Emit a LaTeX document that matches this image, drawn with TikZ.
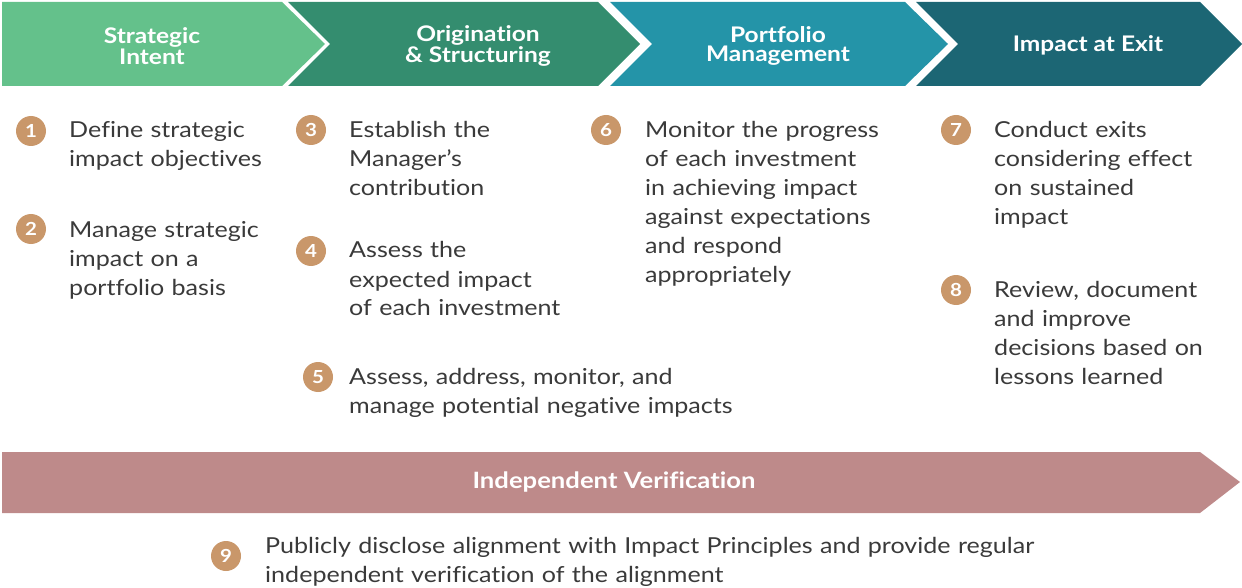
\documentclass[tikz,border=0pt]{standalone}
\usepackage{fontspec}
\setmainfont{Lato}[FakeStretch=1.14,Ligatures={NoCommon,NoRequired,NoContextual}]
\definecolor{cA}{HTML}{64C18B}
\definecolor{cB}{HTML}{348D6F}
\definecolor{cC}{HTML}{2494A8}
\definecolor{cD}{HTML}{1C6674}
\definecolor{cV}{HTML}{BE8A8A}
\definecolor{cN}{HTML}{C9976A}
\definecolor{txt}{HTML}{3A3A3A}
\begin{document}
\begin{tikzpicture}[x=1pt,y=-1pt,
  head/.style={text=white,font=\bfseries\fontsize{21.5}{19}\selectfont,align=center,inner sep=0pt},
  num/.style={circle,fill=cN,minimum size=30pt,inner sep=0pt,text=white,font=\bfseries\fontsize{18}{18}\selectfont},
  item/.style={anchor=base west,text width=450pt,align=left,inner sep=0pt,text=txt,font=\fontsize{22}{29}\selectfont}]
\useasboundingbox (0,0) rectangle (1242,588);
% chevrons
\fill[cA] (2,2) -- (282,2) -- (325,44) -- (282,86) -- (2,86) -- cycle;
\fill[cB] (288,2) -- (598,2) -- (640,44) -- (598,86) -- (288,86) -- (330,44) -- cycle;
\fill[cC] (610,2) -- (905,2) -- (948,44) -- (905,86) -- (610,86) -- (652,44) -- cycle;
\fill[cD] (916,2) -- (1200,2) -- (1242,44) -- (1200,86) -- (916,86) -- (958,44) -- cycle;
\node[head] (h1) at (152,46) {Strategic\\Intent};
\node[head] (h2) at (478,46) {Origination\\\& Structuring};
\node[head] (h3) at (778,46) {Portfolio\\Management};
\node[head] (h4) at (1088,45) {Impact at Exit};
% items
\node[num] (n1) at (31,131) {1};
\node[item] (t1) at (69,138) {Define strategic\\impact objectives};
\node[num] (n2) at (31,229) {2};
\node[item] (t2) at (69,237) {Manage strategic\\impact on a\\portfolio basis};
\node[num] (n3) at (311,130) {3};
\node[item] (t3) at (349,138) {Establish the\\Manager’s\\contribution};
\node[num] (n4) at (311,251) {4};
\node[item] (t4) at (349,258) {Assess the\\expected impact\\of each investment};
\node[num] (n5) at (318,377) {5};
\node[item] (t5) at (349,384) {Assess, address, monitor, and\\manage potential negative impacts};
\node[num] (n6) at (606,130) {6};
\node[item] (t6) at (645,138) {Monitor the progress\\of each investment\\in achieving impact\\against expectations\\and respond\\appropriately};
\node[num] (n7) at (956,130) {7};
\node[item] (t7) at (994,138) {Conduct exits\\considering effect\\on sustained\\impact};
\node[num] (n8) at (956,290) {8};
\node[item] (t8) at (994,297) {Review, document\\and improve\\decisions based on\\lessons learned};
% verification banner
\fill[cV] (2,452) -- (1200,452) -- (1240,482) -- (1200,513) -- (2,513) -- cycle;
\node[head,font=\bfseries\fontsize{22.5}{22}\selectfont] (hv) at (614,482) {Independent Verification};
\node[num] (n9) at (226,556) {9};
\node[item,text width=900pt] (t9) at (265,553) {Publicly disclose alignment with Impact Principles and provide regular\\independent verification of the alignment};
\end{tikzpicture}
\end{document}
